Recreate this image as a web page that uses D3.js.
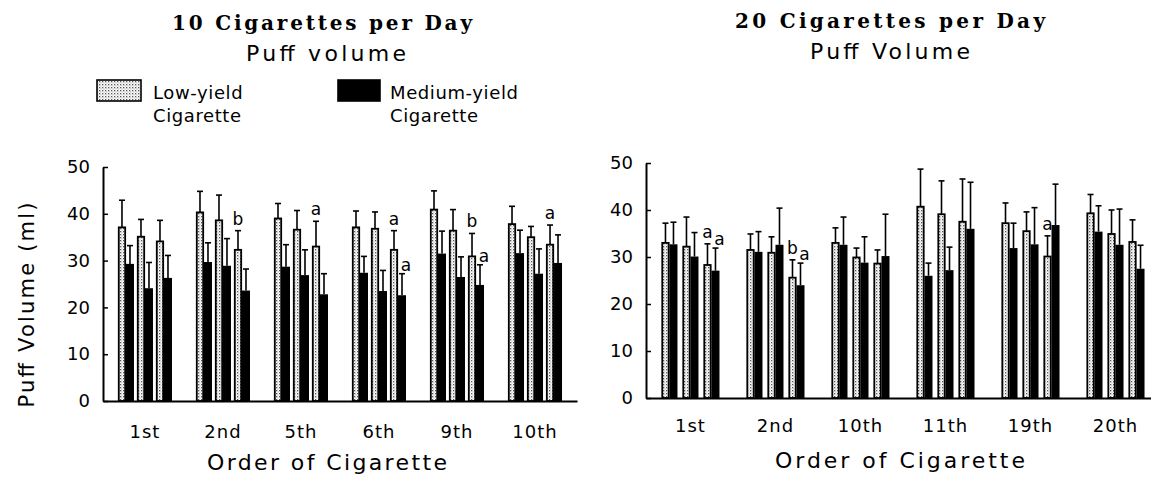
<!DOCTYPE html>
<html><head><meta charset="utf-8">
<script src="https://cdn.jsdelivr.net/npm/d3@7"></script>
<style>body{margin:0;background:#fff} svg{display:block}</style>
</head><body>
<svg id="c" width="1151" height="477"></svg>
<script>
// ---------- DATA ----------
const sessions = [0, 1, 2];
const yTicks = [0, 10, 20, 30, 40, 50];

const categories10 = ["1st", "2nd", "5th", "6th", "9th", "10th"];
const lowMean10 = [[37.1,35.1,34.1],[40.3,38.6,32.3],[39.0,36.6,33.0],[37.1,36.8,32.3],[40.9,36.4,30.9],[37.8,35.0,33.4]];
const lowErr10  = [[5.8,3.7,4.5],[4.5,5.4,4.1],[3.2,4.1,5.4],[3.5,3.6,4.1],[4.0,4.5,4.9],[3.8,2.3,4.2]];
const medMean10 = [[29.3,24.1,26.3],[29.7,28.9,23.6],[28.7,26.9,22.8],[27.4,23.5,22.6],[31.5,26.5,24.8],[31.6,27.2,29.5]];
const medErr10  = [[3.9,5.5,4.8],[4.1,5.8,4.6],[4.7,5.4,4.4],[3.5,4.4,4.6],[4.8,4.3,4.3],[4.9,5.3,6.0]];
const letters10 = [
  {cat:"2nd", s:2, kind:"low", t:"b"},
  {cat:"5th", s:2, kind:"low", t:"a"},
  {cat:"6th", s:2, kind:"low", t:"a"},
  {cat:"6th", s:2, kind:"med", t:"a"},
  {cat:"9th", s:2, kind:"low", t:"b"},
  {cat:"9th", s:2, kind:"med", t:"a"},
  {cat:"10th", s:2, kind:"low", t:"a"}
];

const categories20 = ["1st", "2nd", "10th", "11th", "19th", "20th"];
const lowMean20 = [[33.0,32.2,28.3],[31.5,30.9,25.6],[33.0,29.9,28.6],[40.7,39.1,37.5],[37.2,35.5,30.1],[39.3,34.9,33.2]];
const lowErr20  = [[4.2,6.3,4.5],[3.4,3.4,3.8],[3.2,2.0,2.9],[8.0,7.1,9.1],[4.3,4.1,4.4],[4.0,5.1,4.7]];
const medMean20 = [[32.7,30.1,27.1],[31.1,32.6,24.0],[32.6,28.8,30.2],[26.0,27.2,36.0],[31.9,32.7,36.8],[35.4,32.6,27.5]];
const medErr20  = [[4.7,5.1,4.8],[4.3,7.8,4.7],[5.9,5.5,8.9],[2.7,4.9,9.9],[5.3,7.8,8.7],[5.5,7.6,5.0]];
const letters20 = [
  {cat:"1st", s:2, kind:"low", t:"a"},
  {cat:"1st", s:2, kind:"med", t:"a"},
  {cat:"2nd", s:2, kind:"low", t:"b"},
  {cat:"2nd", s:2, kind:"med", t:"a"},
  {cat:"19th", s:2, kind:"low", t:"a"}
];

const legendLabels = [["Low-yield", "Cigarette"], ["Medium-yield", "Cigarette"]];

// ---------- DRAWING ----------
const SANS = "'DejaVu Sans', sans-serif";
const SERIF = "'DejaVu Serif', serif";
const svg = d3.select("#c");
const defs = svg.append("defs");
const pat = defs.append("pattern").attr("id","dots").attr("width",3).attr("height",3)
  .attr("patternUnits","userSpaceOnUse");
pat.append("rect").attr("width",3).attr("height",3).attr("fill","#fff");
pat.append("rect").attr("x",0).attr("y",0).attr("width",1.3).attr("height",1.3).attr("fill","#555");
pat.append("rect").attr("x",1.5).attr("y",1.5).attr("width",1).attr("height",1).attr("fill","#999");

function panel(cfg) {
  const g = svg.append("g");
  const x0 = d3.scaleBand().domain(cfg.cats).range(cfg.xr)
    .paddingInner(cfg.pi).paddingOuter(cfg.po);
  const x1 = d3.scaleBand().domain(sessions).range([0, x0.bandwidth()]).paddingInner(cfg.pi1);
  const bw = x1.bandwidth() / 2;
  const y = d3.scaleLinear().domain([0, 50]).range(cfg.yr);

  const rows = [];
  cfg.cats.forEach((c, i) => sessions.forEach(s => {
    rows.push({c, s, kind:"low", v:cfg.low[i][s], e:cfg.lowE[i][s], x:x0(c) + x1(s)});
    rows.push({c, s, kind:"med", v:cfg.med[i][s], e:cfg.medE[i][s], x:x0(c) + x1(s) + bw});
  }));

  // error bars
  const eb = g.append("g").attr("stroke","#000").attr("stroke-width",1.6);
  eb.selectAll("line.v").data(rows).join("line").attr("class","v")
    .attr("x1", d => d.x + bw/2).attr("x2", d => d.x + bw/2)
    .attr("y1", d => y(d.v)).attr("y2", d => y(d.v + d.e));
  eb.selectAll("line.h").data(rows).join("line").attr("class","h")
    .attr("x1", d => d.x + bw/2 - 3).attr("x2", d => d.x + bw/2 + 3)
    .attr("y1", d => y(d.v + d.e)).attr("y2", d => y(d.v + d.e));

  // light bars
  g.selectAll("rect.low").data(rows.filter(d => d.kind === "low")).join("rect").attr("class","low")
    .attr("x", d => d.x + 0.8).attr("width", bw - 1.6)
    .attr("y", d => y(d.v)).attr("height", d => y(0) - y(d.v))
    .attr("fill","url(#dots)").attr("stroke","#000").attr("stroke-width",1.8);
  // dark bars
  g.selectAll("rect.med").data(rows.filter(d => d.kind === "med")).join("rect").attr("class","med")
    .attr("x", d => d.x).attr("width", bw)
    .attr("y", d => y(d.v)).attr("height", d => y(0) - y(d.v))
    .attr("fill","#000");

  // significance letters
  const find = d => rows.find(r => r.c === d.cat && r.s === d.s && r.kind === d.kind);
  g.selectAll("text.sig").data(cfg.letters).join("text").attr("class","sig")
    .attr("x", d => find(d).x + bw/2 + (d.kind === "med" ? 4 : 0))
    .attr("y", d => { const r = find(d); return y(r.v + r.e) - (d.kind === "med" ? 3 : 6); })
    .attr("text-anchor","middle").attr("font-family", SANS).attr("font-size", 17).text(d => d.t);

  // y axis
  const ya = g.append("g").attr("transform", `translate(${cfg.xr[0]},0)`)
    .call(d3.axisLeft(y).tickValues(yTicks).tickSize(-5).tickSizeOuter(0).tickPadding(13));
  ya.select(".domain").attr("stroke-width", 2);
  ya.selectAll(".tick line").attr("stroke-width", 1.5);
  ya.selectAll("text").attr("font-family", SANS).attr("font-size", 18).attr("fill","#000");

  // x axis
  const xa = g.append("g").attr("transform", `translate(0,${y(0)})`)
    .call(d3.axisBottom(x0).tickSize(0).tickSizeOuter(0).tickPadding(cfg.xpad));
  xa.select(".domain").attr("stroke-width", 2.2);
  xa.selectAll("text").attr("font-family", SANS).attr("font-size", 18).attr("fill","#000")
    .attr("letter-spacing", 1);

  // titles
  g.append("text").attr("x", cfg.tx).attr("y", cfg.ty).attr("text-anchor","middle")
    .attr("font-family", SERIF).attr("font-weight","bold").attr("font-size", 20)
    .attr("textLength", cfg.tw).attr("lengthAdjust","spacing").text(cfg.title);
  g.append("text").attr("x", cfg.sx).attr("y", cfg.sy).attr("text-anchor","middle")
    .attr("font-family", SANS).attr("font-size", 22)
    .attr("textLength", cfg.sw).attr("lengthAdjust","spacing").text(cfg.sub);
  g.append("text").attr("x", cfg.ox).attr("y", cfg.oy).attr("text-anchor","middle")
    .attr("font-family", SANS).attr("font-size", 22)
    .attr("textLength", cfg.ow).attr("lengthAdjust","spacing").text("Order of Cigarette");
  return {x0, y};
}

panel({cats:categories10, low:lowMean10, lowE:lowErr10, med:medMean10, medE:medErr10, letters:letters10,
  xr:[103, 577], pi:0.3077, po:0.192, pi1:0.158, yr:[401, 167], xpad:24,
  title:"10 Cigarettes per Day", tx:322, ty:30, tw:300,
  sub:"Puff volume", sx:326, sy:61, sw:160,
  ox:327, oy:470, ow:240});

panel({cats:categories20, low:lowMean20, lowE:lowErr20, med:medMean20, medE:medErr20, letters:letters20,
  xr:[646, 1160], pi:0.3176, po:0.182, pi1:0.238, yr:[398, 163], xpad:21,
  title:"20 Cigarettes per Day", tx:890, ty:28, tw:310,
  sub:"Puff Volume", sx:890, sy:59, sw:160,
  ox:900, oy:468, ow:250});

// y axis title (left only)
svg.append("text").attr("transform","translate(34,305) rotate(-90)").attr("text-anchor","middle")
  .attr("font-family", SANS).attr("font-size", 21)
  .attr("textLength", 205).attr("lengthAdjust","spacing").text("Puff Volume (ml)");

// legend
const lg = svg.append("g");
const legendPos = [{x:97, w:44, fill:"url(#dots)", tx:153}, {x:338, w:42, fill:"#000", tx:390}];
legendPos.forEach((p, i) => {
  lg.append("rect").attr("x", p.x).attr("y", 80).attr("width", p.w).attr("height", 21)
    .attr("fill", p.fill).attr("stroke","#000").attr("stroke-width", 1.6);
  legendLabels[i].forEach((t, k) => {
    lg.append("text").attr("x", p.tx).attr("y", 99 + k*23).attr("font-family", SANS)
      .attr("font-size", 18).attr("letter-spacing", 0.6).text(t);
  });
});
</script>
</body></html>
